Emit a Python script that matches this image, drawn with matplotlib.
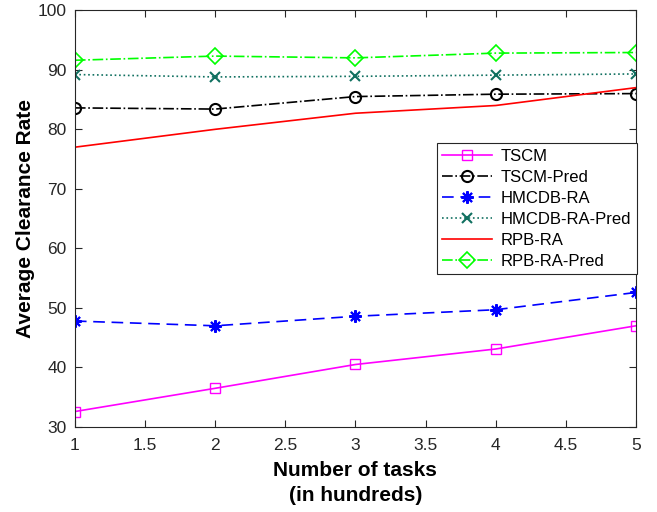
import matplotlib
matplotlib.use("Agg")
import matplotlib.pyplot as plt

plt.rcParams['font.family'] = ['Liberation Sans', 'DejaVu Sans']

tasks = [1, 2, 3, 4, 5]
tscm = [32.6, 36.5, 40.5, 43.1, 47.0]
tscm_pred = [83.6, 83.4, 85.5, 85.9, 86.0]
hmcdb = [47.8, 47.0, 48.6, 49.7, 52.6]
hmcdb_pred = [89.2, 88.8, 88.9, 89.1, 89.3]
rpb = [77.0, 80.0, 82.7, 84.0, 87.0]
rpb_pred = [91.6, 92.3, 92.0, 92.8, 92.9]

fig = plt.figure(figsize=(6.57, 5.12), dpi=100)
ax = fig.add_axes([0.114, 0.166, 0.854, 0.814])

ax.plot(tasks, tscm, '-', color='#ff00ff', marker='s', ms=7, mfc='none', lw=1.2, label='TSCM')
ax.plot(tasks, tscm_pred, '-.', color='black', marker='o', ms=8, mfc='none', mew=1.5, lw=1.2, label='TSCM-Pred')
ax.plot(tasks, hmcdb, '--', color='#0000ff', marker=(8, 2, 0), ms=9, mew=1.5, lw=1.2, dashes=(7, 4), label='HMCDB-RA')
ax.plot(tasks, hmcdb_pred, ':', color='#107060', marker='x', ms=7, mew=1.5, lw=1.2, label='HMCDB-RA-Pred')
ax.plot(tasks, rpb, '-', color='#ff0000', lw=1.2, label='RPB-RA')
ax.plot(tasks, rpb_pred, '-.', color='#00ff00', marker='D', ms=8, mfc='none', mew=1.2, lw=1.2, label='RPB-RA-Pred')

ax.set_xlim(1, 5)
ax.set_ylim(30, 100)
ax.set_xticks([1, 1.5, 2, 2.5, 3, 3.5, 4, 4.5, 5])
ax.set_xticklabels(['1', '1.5', '2', '2.5', '3', '3.5', '4', '4.5', '5'])
ax.set_yticks(range(30, 101, 10))
ax.tick_params(direction='in', top=True, right=True, labelsize=12.5, colors='#262626', length=5)
ax.tick_params(axis='x', pad=8)
ax.tick_params(axis='y', pad=6)
for s in ax.spines.values():
    s.set_color('#262626')
    s.set_linewidth(0.8)

ax.set_xlabel('Number of tasks\n(in hundreds)', fontsize=15, fontweight='bold', labelpad=6,
              linespacing=1.4)
ax.set_ylabel('Average Clearance Rate', fontsize=15, fontweight='bold', labelpad=2)

leg = ax.legend(loc='upper right', bbox_to_anchor=(1.002, 0.682), borderaxespad=0, fontsize=12,
                fancybox=False, edgecolor='#262626', framealpha=1, handlelength=3, borderpad=0.35,
                labelspacing=0.36, handletextpad=0.5)
leg.get_frame().set_linewidth(0.8)

fig.savefig('out.png', dpi=100)
